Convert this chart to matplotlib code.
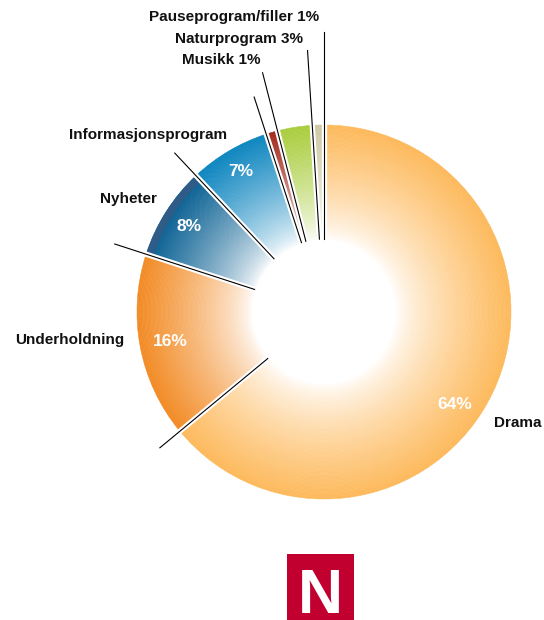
import numpy as np
import matplotlib
matplotlib.use("Agg")
from matplotlib import pyplot as plt
from matplotlib.patches import Wedge, Rectangle
from matplotlib.colors import to_rgb

categories = ["Drama", "Underholdning", "Nyheter", "Informasjonsprogram",
              "Musikk", "Naturprogram", "Pauseprogram/filler"]
shares = [64, 16, 8, 7, 1, 3, 1]
colors = ["#fdb95a", "#f28a22", "#005a8f", "#0a84bf",
          "#a3261a", "#a9cd3c", "#cdc8a4"]
# outer labels: text shown beside each slice
outer_labels = ["Drama", "Underholdning", "Nyheter", "Informasjonsprogram",
                "Musikk 1%", "Naturprogram 3%", "Pauseprogram/filler 1%"]
# percentages written inside the wider slices
inner_labels = ["64%", "16%", "8%", "7%", "", "", ""]

# layout in pixels (y measured from the top)
W, H = 544, 620
cx, cy = 324, 312
r_in, r_out = 72, 187
outer_pos = [(518, 423), (70, 340), (128, 199), (148, 135),
             (221, 60), (239, 39), (234, 17)]
inner_r = [160, 156, 160, 163, 0, 0, 0]
inner_shift = [10, 0, 0, 0, 0, 0, 0]      # degrees, clockwise
line_len = [213, 220, 218, 226, 247, 262, 280]  # leader line at each slice's end

fig = plt.figure(figsize=(W / 100, H / 100), dpi=100)
ax = fig.add_axes([0, 0, 1, 1])
ax.set_xlim(0, W)
ax.set_ylim(0, H)
ax.axis("off")

CY = H - cy


def math_angle(a):
    # clockwise degrees from 12 o'clock -> matplotlib angle
    return 90 - a


def polar(a, r):
    t = np.deg2rad(math_angle(a))
    return cx + r * np.cos(t), CY + r * np.sin(t)


ends = np.cumsum(shares) / sum(shares) * 360
starts = np.concatenate([[0], ends[:-1]])

n_rings = 90
white = np.array([1.0, 1.0, 1.0])
for s, e, col in zip(starts, ends, colors):
    c = np.array(to_rgb(col))
    step = (r_out - r_in) / n_rings
    for k in range(n_rings):
        t = ((k + 0.5) / n_rings) ** 0.75
        rgb = white + (c - white) * t
        ax.add_patch(Wedge((cx, CY), r_in + (k + 1) * step,
                           math_angle(e), math_angle(s), width=step,
                           facecolor=rgb, edgecolor=rgb, lw=0.4))

# darker rim on the news slice
i = categories.index("Nyheter")
ax.add_patch(Wedge((cx, CY), r_out, math_angle(ends[i]), math_angle(starts[i]),
                   width=7, facecolor="#2f5b86", edgecolor="none"))

# white gaps and black leader lines along every slice boundary
for e in ends:
    x0, y0 = polar(e, r_in - 4)
    x1, y1 = polar(e, r_out + 3)
    ax.plot([x0, x1], [y0, y1], color="white", lw=3.8, solid_capstyle="butt")
for e, ln in zip(ends, line_len):
    x0, y0 = polar(e, r_in + 1)
    x1, y1 = polar(e, ln)
    ax.plot([x0, x1], [y0, y1], color="black", lw=0.8)

for s, e, lab, r, sh in zip(starts, ends, inner_labels, inner_r, inner_shift):
    if not lab:
        continue
    x, y = polar((s + e) / 2 + sh, r)
    ax.text(x, y, lab, color="white", fontsize=12.5, fontweight="bold",
            family="Liberation Sans", ha="center", va="center")

for lab, (x, y) in zip(outer_labels, outer_pos):
    ax.text(x, H - y, lab, color="#111111", fontsize=11, fontweight="bold",
            family="Liberation Sans", ha="center", va="center")

# NRK style logo at the bottom
ax.add_patch(Rectangle((287, 0), 67, 66, facecolor="#c2002f", edgecolor="none"))
ax.text(320.5, 7, "N", color="white", fontsize=45, fontweight="bold",
        family="Liberation Sans", ha="center", va="baseline")

fig.savefig("out.png", dpi=100, facecolor="white")
